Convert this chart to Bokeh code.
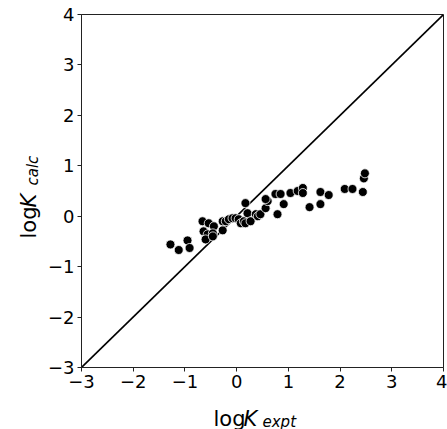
import math
from bokeh.plotting import figure
from bokeh.layouts import column, row
from bokeh.models import Range1d, FixedTicker
from bokeh.core.properties import value
from bokeh.embed import file_html
from bokeh.resources import INLINE

# data
log_k_expt = [-1.28, -1.12, -0.95, -0.91, -0.66, -0.54, -0.44, -0.64, -0.56, -0.46,
              -0.60, -0.46, -0.27, -0.27, -0.21, -0.15, -0.08, -0.02, 0.04, 0.17,
              0.08, 0.14, 0.21, 0.17, 0.27, 0.37, 0.41, 0.46, 0.56, 0.60,
              0.56, 0.75, 0.85, 0.91, 0.79, 1.04, 1.18, 1.28, 1.28, 1.41,
              1.62, 1.62, 1.78, 2.09, 2.24, 2.44, 2.46, 2.48]
log_k_calc = [-0.56, -0.67, -0.48, -0.63, -0.10, -0.14, -0.20, -0.30, -0.36, -0.34,
              -0.46, -0.40, -0.28, -0.10, -0.10, -0.06, -0.04, -0.04, -0.06, 0.26,
              -0.14, -0.10, 0.06, -0.14, -0.10, 0.04, 0.00, 0.04, 0.16, 0.30,
              0.34, 0.44, 0.44, 0.24, 0.04, 0.46, 0.50, 0.56, 0.46, 0.18,
              0.48, 0.24, 0.42, 0.54, 0.54, 0.48, 0.75, 0.85]
axis_limits = [-3, 4]
tick_values = [-3, -2, -1, 0, 1, 2, 3, 4]
tick_labels = ["\u22123", "\u22122", "\u22121", "0", "1", "2", "3", "4"]
x_label_parts = ["log", "K", "expt"]
y_label_parts = ["log", "K", "calc"]
label_styles = ["normal", "italic", "italic"]

W, H = 447, 429
YLAB_W = 42
TOP_H = 397
B_TOP, B_BOTTOM = 14, 30

# ---- main plot
p = figure(width=W - YLAB_W, height=TOP_H, output_backend="svg", toolbar_location=None,
           x_range=Range1d(*axis_limits), y_range=Range1d(*axis_limits),
           min_border_left=81 - YLAB_W, min_border_right=4, min_border_top=B_TOP,
           min_border_bottom=B_BOTTOM)
p.title = None
p.background_fill_color = "white"
p.border_fill_color = "white"
p.xgrid.visible = False
p.ygrid.visible = False
p.outline_line_color = "#222222"
p.outline_line_width = 1

for ax in (p.xaxis[0], p.yaxis[0]):
    ax.ticker = FixedTicker(ticks=tick_values)
    ax.major_label_overrides = dict(zip(tick_values, tick_labels))
    ax.major_label_text_font = "DejaVu Sans"
    ax.major_label_text_font_size = "18px"
    ax.major_label_text_color = "black"
    ax.major_tick_out = 4
    ax.major_tick_in = 0
    ax.minor_tick_out = 0
    ax.minor_tick_in = 0
    ax.major_tick_line_color = "#222222"
    ax.axis_line_color = "#222222"
    ax.major_label_standoff = 3

p.line(axis_limits, axis_limits, line_color="black", line_width=1.6)
p.scatter(log_k_expt, log_k_calc, size=9, fill_color="black", line_color="white",
          line_width=0.8)


def blank(width, height, top=0, bottom=0):
    # coordinates in pixels measured from the panel's bottom edge
    f = figure(width=width, height=height, output_backend="svg",
               toolbar_location=None,
               x_range=Range1d(0, width), y_range=Range1d(bottom, height - top),
               x_axis_location=None, y_axis_location=None,
               min_border=0, min_border_left=0, min_border_right=0,
               min_border_top=top, min_border_bottom=bottom)
    f.title = None
    f.xgrid.visible = False
    f.ygrid.visible = False
    f.outline_line_color = None
    f.background_fill_color = "white"
    f.border_fill_color = "white"
    return f


BIG, SMALL = "21px", "15px"

# ---- x label panel (below)
XL_H = H - TOP_H
xl = blank(W, XL_H)
x_pos = [213, 243, 262]
y_base = [XL_H - 21, XL_H - 21, XL_H - 24]
for t, st, xx, yy, fs in zip(x_label_parts, label_styles, x_pos, y_base, [BIG, BIG, SMALL]):
    xl.text(x=[xx], y=[yy], text=[t], text_font=value("DejaVu Sans"),
            text_font_size=value(fs), text_font_style=st, text_color="black",
            text_align="left", text_baseline="alphabetic")

# ---- y label panel (left)
yl = blank(YLAB_W, TOP_H, top=B_TOP, bottom=B_BOTTOM)
yx = [28, 28, 32]
yy_pos = [TOP_H - 238, TOP_H - 207, TOP_H - 185]
for t, st, xx, yy, fs in zip(y_label_parts, label_styles, yx, yy_pos, [BIG, BIG, SMALL]):
    yl.text(x=[xx], y=[yy], text=[t], text_font=value("DejaVu Sans"),
            text_font_size=value(fs), text_font_style=st, text_color="black",
            text_align="left", text_baseline="alphabetic", angle=math.pi / 2)

layout = column(row(yl, p, spacing=0), xl, spacing=0)
open("out.html", "w").write(file_html(layout, INLINE))
